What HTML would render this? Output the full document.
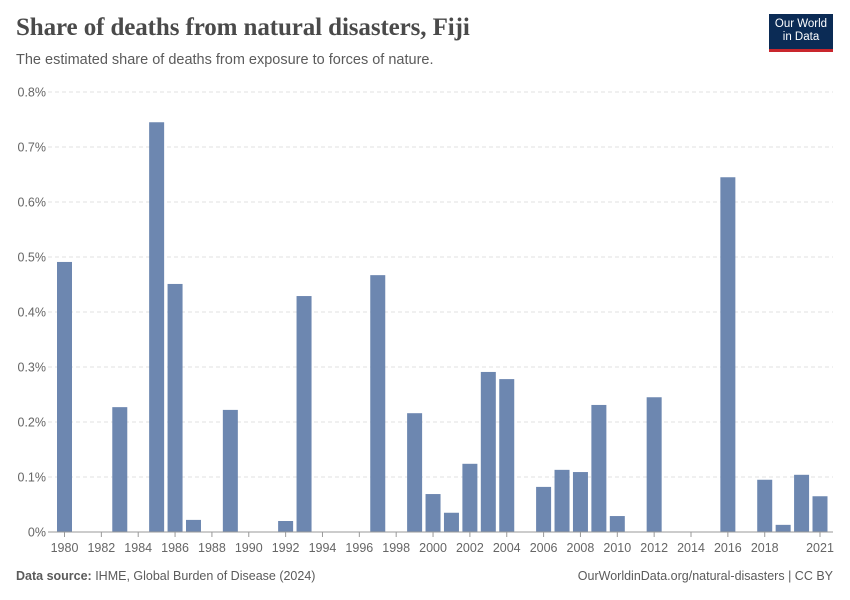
<!DOCTYPE html>
<html><head><meta charset="utf-8"><style>
body{margin:0;background:#fff;font-family:"Liberation Sans",sans-serif;}
#wrap{position:relative;width:850px;height:600px;overflow:hidden;}
.title{position:absolute;left:16px;top:14px;font-family:"Liberation Serif",serif;font-size:25px;font-weight:bold;color:#4a4a4a;letter-spacing:-0.1px;}
.sub{position:absolute;left:16px;top:52px;font-size:14.5px;color:#5b5b5b;}
.logo{position:absolute;left:769px;top:14px;width:64px;height:38px;background:#0b2b55;color:#fff;font-size:11.5px;text-align:center;line-height:13px;padding-top:4px;box-sizing:border-box;border-bottom:3px solid #c9262d;}
.foot{position:absolute;top:569px;font-size:12.5px;color:#5b5b5b;}
</style></head><body>
<div id="wrap">
<div class="title">Share of deaths from natural disasters, Fiji</div>
<div class="sub">The estimated share of deaths from exposure to forces of nature.</div>
<div class="logo">Our World<br>in Data</div>
<svg id="plot" width="850" height="600" style="position:absolute;left:0;top:0"></svg>
<div class="foot" style="left:16px"><b>Data source:</b> IHME, Global Burden of Disease (2024)</div>
<div class="foot" style="right:17px">OurWorldinData.org/natural-disasters | CC BY</div>
</div>
<script>
const years=[1980,1983,1985,1986,1987,1989,1992,1993,1997,1999,2000,2001,2002,2003,2004,2006,2007,2008,2009,2010,2012,2016,2018,2019,2020,2021];
const values=[0.491,0.227,0.745,0.451,0.022,0.222,0.020,0.429,0.467,0.216,0.069,0.035,0.124,0.291,0.278,0.082,0.113,0.109,0.231,0.029,0.245,0.645,0.095,0.013,0.104,0.065];
const yTicks=[0,0.1,0.2,0.3,0.4,0.5,0.6,0.7,0.8];
const xTicks=[1980,1982,1984,1986,1988,1990,1992,1994,1996,1998,2000,2002,2004,2006,2008,2010,2012,2014,2016,2018,2021];
const NS="http://www.w3.org/2000/svg";
const svg=document.getElementById('plot');
const x=yr=>64.5+(yr-1980)*(820-64.5)/41;
const y=v=>532-v*550;
function mk(t,a){const e=document.createElementNS(NS,t);for(const k in a)e.setAttribute(k,a[k]);svg.appendChild(e);return e;}
yTicks.forEach(v=>{
 if(v>0){const g=mk('line',{x1:48,x2:833,y1:y(v),y2:y(v),stroke:'#e0e0e0','stroke-dasharray':'4,3'});
 
 }
 const t=mk('text',{x:46,y:y(v)+4.5,'text-anchor':'end','font-size':12.5,fill:'#666','font-family':'Liberation Sans'});
 t.textContent=(Math.round(v*10)/10)+'%';
 
 
});
years.forEach((yr,i)=>{
 const r=mk('rect',{x:x(yr)-7.5,y:y(values[i]),width:15,height:532-y(values[i]),fill:'#6d87b0'});
 
 
});
const ax=mk('line',{x1:48,x2:833,y1:532,y2:532,stroke:'#999'});


xTicks.forEach(yr=>{
 const tk=mk('line',{x1:x(yr),x2:x(yr),y1:532,y2:537,stroke:'#999'});
 
 
 const t=mk('text',{x:x(yr),y:552,'text-anchor':'middle','font-size':12.5,fill:'#666','font-family':'Liberation Sans'});
 t.textContent=yr;
 
 
});
</script>
</body></html>
